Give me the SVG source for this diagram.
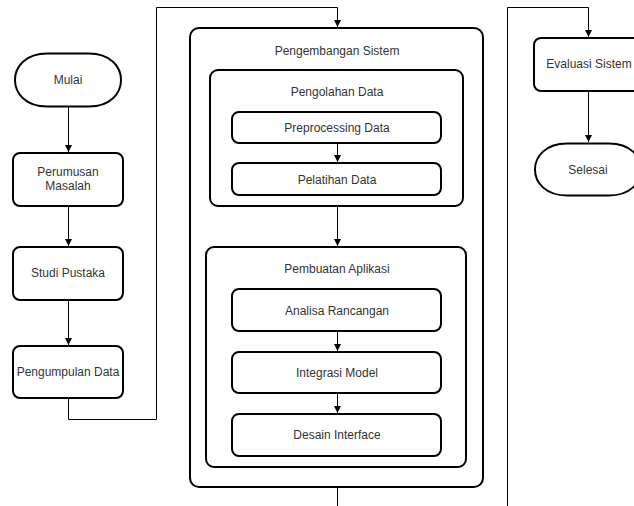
<svg xmlns="http://www.w3.org/2000/svg" width="634" height="506" viewBox="0 0 634 506">
<style>
.n{fill:#fff;stroke:#000;stroke-width:2}
.c{fill:none;stroke:#000;stroke-width:1}
text{font-family:"Liberation Sans",Arial,sans-serif;font-size:12px;fill:#333;text-anchor:middle;dominant-baseline:central}
</style>
<defs>
<marker id="a" viewBox="0 0 10 10" refX="10" refY="5" markerWidth="7" markerHeight="7" orient="auto" markerUnits="userSpaceOnUse">
<path d="M0,0 L10,5 L0,10 Z" fill="#000"/>
</marker>
</defs>
<rect width="634" height="506" fill="#fff"/>
<g id="mulai">
<path class="n" d="M47,53.5 H89 C131.7,53.5 131.7,106.5 89,106.5 H47 C4.3,106.5 4.3,53.5 47,53.5 Z"/>
<text x="68" y="80">Mulai</text>
</g>
<g id="perumusan">
<rect class="n" x="13" y="153" width="110" height="53" rx="7"/>
<text x="68" y="172">Perumusan</text>
<text x="68" y="186">Masalah</text>
</g>
<g id="studi">
<rect class="n" x="13" y="247" width="110" height="53" rx="7"/>
<text x="68" y="273">Studi Pustaka</text>
</g>
<g id="pengumpulan">
<rect class="n" x="13" y="346" width="110" height="52" rx="7"/>
<text x="68" y="372">Pengumpulan Data</text>
</g>
<g id="pengembangan">
<rect class="n" x="190" y="28" width="293" height="459" rx="9"/>
<text x="337" y="51">Pengembangan Sistem</text>
</g>
<g id="pengolahan">
<rect class="n" x="210" y="70" width="253" height="136" rx="8"/>
<text x="337" y="92">Pengolahan Data</text>
</g>
<g id="preprocessing">
<rect class="n" x="232" y="112" width="209" height="31" rx="7"/>
<text x="337" y="128">Preprocessing Data</text>
</g>
<g id="pelatihan">
<rect class="n" x="232" y="163" width="209" height="32" rx="7"/>
<text x="337" y="180">Pelatihan Data</text>
</g>
<g id="pembuatan">
<rect class="n" x="206" y="247" width="260" height="220" rx="8"/>
<text x="337" y="269">Pembuatan Aplikasi</text>
</g>
<g id="analisa">
<rect class="n" x="232" y="289" width="209" height="42" rx="7"/>
<text x="337" y="311">Analisa Rancangan</text>
</g>
<g id="integrasi">
<rect class="n" x="232" y="352" width="209" height="41" rx="7"/>
<text x="337" y="373">Integrasi Model</text>
</g>
<g id="desain">
<rect class="n" x="232" y="414" width="209" height="42" rx="7"/>
<text x="337" y="435">Desain Interface</text>
</g>
<g id="evaluasi">
<rect class="n" x="534" y="38" width="110" height="53" rx="7"/>
<text x="589" y="64">Evaluasi Sistem</text>
</g>
<g id="selesai">
<path class="n" d="M567,143.5 H609 C651.7,143.5 651.7,195.5 609,195.5 H567 C524.3,195.5 524.3,143.5 567,143.5 Z"/>
<text x="588" y="170">Selesai</text>
</g>
<g id="connectors">
<path class="c" d="M68.5,107 V152" marker-end="url(#a)"/>
<path class="c" d="M68.5,206 V246" marker-end="url(#a)"/>
<path class="c" d="M68.5,300 V345" marker-end="url(#a)"/>
<path class="c" d="M68.5,398 V419.5 H156.5 V7.5 H337.5 V27" marker-end="url(#a)"/>
<path class="c" d="M337.5,143 V162" marker-end="url(#a)"/>
<path class="c" d="M337.5,206 V246" marker-end="url(#a)"/>
<path class="c" d="M337.5,331 V351" marker-end="url(#a)"/>
<path class="c" d="M337.5,393 V413" marker-end="url(#a)"/>
<path class="c" d="M337.5,487 V506"/>
<path class="c" d="M507.5,506 V7.5 H588.5 V37" marker-end="url(#a)"/>
<path class="c" d="M588.5,91 V142" marker-end="url(#a)"/>
</g>
</svg>
